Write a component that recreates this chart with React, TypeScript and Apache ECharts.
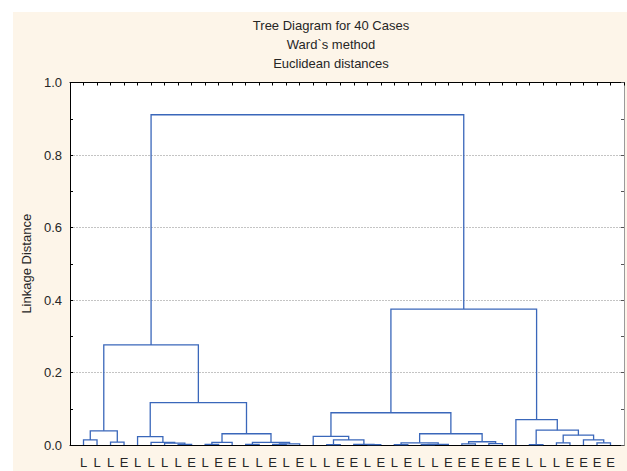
import React, { useEffect, useRef } from "react";
import * as echarts from "echarts";

const titleLines = ["Tree Diagram for 40 Cases", "Ward`s method", "Euclidean distances"];
const yAxisName = "Linkage Distance";
const yTicks = [0, 0.2, 0.4, 0.6, 0.8, 1.0];

// 40 leaves, left to right
const leafLabels = [
  "L", "L", "L", "E", "L", "L", "L", "L", "E", "L", "E", "E", "L",
  "L", "E", "L", "E", "L", "L", "E", "E", "L", "E", "L", "E",
  "L", "L",
  "E", "E", "E", "E", "E", "E",
  "L", "L", "L",
  "E", "E", "E", "E",
];

// merges: [nodeA, nodeB, linkage distance]; leaves are 0..39, merge k becomes node 40+k
const merges: [number, number, number][] = [
  [0, 1, 0.014],
  [2, 3, 0.008],
  [40, 41, 0.039],
  [7, 8, 0.002],
  [6, 43, 0.005],
  [5, 44, 0.007],
  [4, 45, 0.023],
  [9, 10, 0.002],
  [47, 11, 0.007],
  [12, 13, 0.002],
  [14, 15, 0.002],
  [50, 16, 0.003],
  [49, 51, 0.007],
  [48, 52, 0.031],
  [46, 53, 0.117],
  [42, 54, 0.276],
  [18, 19, 0.001],
  [21, 22, 0.001],
  [20, 57, 0.002],
  [56, 58, 0.014],
  [17, 59, 0.024],
  [23, 24, 0.001],
  [25, 26, 0.001],
  [62, 27, 0.002],
  [61, 63, 0.006],
  [28, 29, 0.003],
  [30, 31, 0.004],
  [65, 66, 0.009],
  [64, 67, 0.031],
  [60, 68, 0.089],
  [33, 34, 0.001],
  [35, 36, 0.006],
  [38, 39, 0.006],
  [37, 72, 0.014],
  [71, 73, 0.027],
  [70, 74, 0.041],
  [32, 75, 0.070],
  [69, 76, 0.375],
  [55, 77, 0.911],
];

function buildLinks() {
  const n = leafLabels.length;
  const pos: number[] = [];
  const hgt: number[] = [];
  for (let i = 0; i < n; i++) {
    pos.push(i + 1);
    hgt.push(0);
  }
  const links: number[][] = [];
  merges.forEach(([a, b, h]) => {
    links.push([pos[a], hgt[a], pos[b], hgt[b], h]);
    pos.push((pos[a] + pos[b]) / 2);
    hgt.push(h);
  });
  return links;
}

const FONT = "Liberation Sans, Arial, sans-serif";
const LINK_COLOR = "#3a67ba";
const TEXT_COLOR = "#262626";

export default function App() {
  const ref = useRef<HTMLDivElement>(null);
  useEffect(() => {
    if (!ref.current) return;
    const chart = echarts.init(ref.current, null, { renderer: "svg" });
    const links = buildLinks();
    const option: any = {
      animation: false,
      backgroundColor: "#ffffff",
      textStyle: { fontFamily: FONT },
      graphic: [
        {
          type: "rect",
          z: -10,
          silent: true,
          shape: { x: 13, y: 12, width: 614, height: 459 },
          style: { fill: "#fdf5e9" },
        },
        ...titleLines.map((t, i) => ({
          type: "text",
          x: 331,
          y: 25 + i * 19,
          style: {
            text: t,
            fontSize: 13,
            fontFamily: FONT,
            fill: TEXT_COLOR,
            textAlign: "center",
            textVerticalAlign: "middle",
          },
        })),
      ],
      grid: {
        left: 70,
        right: 1,
        top: 82.5,
        bottom: 26,
        show: true,
        backgroundColor: "#ffffff",
        borderWidth: 0,
      },
      xAxis: [
        {
          type: "value",
          position: "bottom",
          min: 0,
          max: leafLabels.length + 1,
          interval: 1,
          axisLine: { show: true, lineStyle: { color: "#000", width: 1 } },
          axisTick: { show: false },
          splitLine: { show: false },
          axisLabel: {
            show: true,
            margin: 11,
            fontSize: 13,
            fontFamily: FONT,
            color: TEXT_COLOR,
            showMinLabel: true,
            showMaxLabel: true,
            formatter: (v: number) => leafLabels[Math.round(v) - 1] || "",
          },
        },
        {
          type: "value",
          position: "top",
          min: 0,
          max: leafLabels.length + 1,
          interval: 1,
          axisLine: { show: true, onZero: false, lineStyle: { color: "#000", width: 1 } },
          axisTick: { show: true, inside: true, length: 3, lineStyle: { color: "#000" } },
          splitLine: { show: false },
          axisLabel: { show: false },
        },
      ],
      yAxis: [
        {
          type: "value",
          position: "left",
          min: 0,
          max: 1,
          interval: 0.2,
          name: yAxisName,
          nameLocation: "middle",
          nameGap: 34,
          nameRotate: 90,
          nameTextStyle: { fontSize: 13, fontFamily: FONT, color: TEXT_COLOR },
          axisLine: { show: true, lineStyle: { color: "#000", width: 1 } },
          axisTick: { show: true, inside: true, length: 3, lineStyle: { color: "#000" } },
          minorTick: { show: true, splitNumber: 2, length: 3, lineStyle: { color: "#000" } },
          splitLine: {
            show: true,
            lineStyle: { color: "#c4c4c4", type: [2, 1], width: 1 },
          },
          axisLabel: {
            margin: 8,
            fontSize: 13,
            fontFamily: FONT,
            color: TEXT_COLOR,
            formatter: (v: number) => (yTicks.includes(Math.round(v * 10) / 10) ? v.toFixed(1) : ""),
          },
        },
        {
          type: "value",
          position: "right",
          min: 0,
          max: 1,
          interval: 0.1,
          axisLine: { show: true, onZero: false, lineStyle: { color: "#9a9a9a", width: 1 } },
          axisTick: { show: true, inside: true, length: 3, lineStyle: { color: "#555" } },
          splitLine: { show: false },
          axisLabel: { show: false },
        },
      ],
      series: [
        {
          type: "custom",
          coordinateSystem: "cartesian2d",
          xAxisIndex: 0,
          yAxisIndex: 0,
          encode: { x: [0, 2], y: [1, 3, 4] },
          data: links,
          renderItem: (params: any, api: any) => {
            const xa = api.value(0);
            const ha = api.value(1);
            const xb = api.value(2);
            const hb = api.value(3);
            const h = api.value(4);
            const p1 = api.coord([xa, ha]);
            const p2 = api.coord([xa, h]);
            const p3 = api.coord([xb, h]);
            const p4 = api.coord([xb, hb]);
            return {
              type: "polyline",
              shape: { points: [p1, p2, p3, p4] },
              style: { stroke: LINK_COLOR, lineWidth: 1.3, fill: "none" },
            };
          },
        },
      ],
    };
    chart.setOption(option);
    return () => chart.dispose();
  }, []);
  return (
    <div
      ref={ref}
      style={{ position: "fixed", left: 0, top: 0, width: 627, height: 471 }}
    />
  );
}
